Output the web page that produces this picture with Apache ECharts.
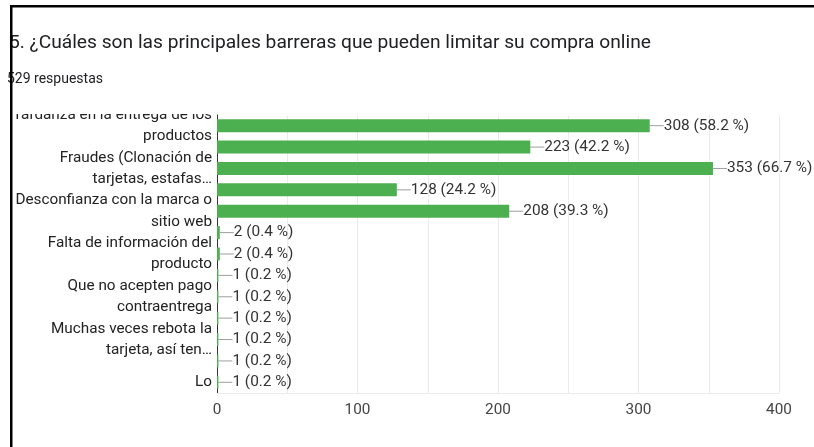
<!DOCTYPE html>
<html>
<head>
<meta charset="utf-8">
<script src="https://cdn.jsdelivr.net/npm/echarts@6/dist/echarts.min.js"></script>
<style>
	html, body { margin: 0; padding: 0; background: #fff; }
	#chart { width: 814px; height: 447px; }
</style>
</head>
<body>
<div id="chart"></div>
<script>
// respuestas por barrera (total 529)
const categories = [
	'Tardanza en la entrega de los productos',
	'Costos de envío elevados',
	'Fraudes (Clonación de tarjetas, estafas…',
	'Inseguridad en los medios de pago',
	'Desconfianza con la marca o sitio web',
	'Productos distintos a la descripción',
	'Falta de información del producto',
	'Ninguna',
	'Que no acepten pago contraentrega',
	'No tengo tarjeta de crédito',
	'Muchas veces rebota la tarjeta, así ten…',
	'Demoras en los reembolsos',
	'Lo'
];
const counts = [308, 223, 353, 128, 208, 2, 2, 1, 1, 1, 1, 1, 1];
const percents = [58.2, 42.2, 66.7, 24.2, 39.3, 0.4, 0.4, 0.2, 0.2, 0.2, 0.2, 0.2, 0.2];
const xTicks = [0, 100, 200, 300, 400];

const font = 'Roboto, Arial, sans-serif';

// parte una etiqueta larga en dos renglones como Google Charts
function wrapLabel(text) {
	const words = text.split(' ');
	let line1 = '';
	let rest = [];
	for (let i = 0; i < words.length; i++) {
		const next = line1 ? line1 + ' ' + words[i] : words[i];
		if (next.length <= 29 && rest.length === 0) {
			line1 = next;
		} else {
			rest.push(words[i]);
		}
	}
	return rest.length ? line1 + '\n' + rest.join(' ') : line1;
}

function buildData() {
	let data = [];
	for (let i = 0; i < counts.length; i++) {
		data.push({ value: counts[i], pct: percents[i] });
	}
	return data;
}

var chartDom = document.getElementById('chart');
var myChart = echarts.init(chartDom);
var option;

option = {
	animation: false,
	title: [
		{
			text: '5. ¿Cuáles son las principales barreras que pueden limitar su compra online',
			left: 4,
			top: 29,
			textStyle: { fontFamily: font, fontSize: 19.2, fontWeight: 'normal', color: '#202124' }
		},
		{
			text: '529 respuestas',
			left: 2,
			top: 67,
			textStyle: { fontFamily: font, fontSize: 14, fontWeight: 'normal', color: '#202124' }
		}
	],
	grid: {
		left: 217,
		right: 35,
		top: 115,
		bottom: 54
	},
	xAxis: {
		type: 'value',
		min: 0,
		max: 400,
		interval: 50,
		axisLine: { show: true, lineStyle: { color: '#ebebeb' } },
		axisTick: { show: false },
		splitLine: { show: true, lineStyle: { color: '#ebebeb', width: 1 } },
		axisLabel: {
			margin: 10,
			fontFamily: font,
			fontSize: 15.3,
			color: '#444',
			formatter: function (v) {
				return xTicks.indexOf(v) >= 0 ? String(v) : '';
			}
		}
	},
	yAxis: {
		type: 'category',
		inverse: true,
		data: categories,
		axisLine: { show: true, lineStyle: { color: '#333', width: 1 } },
		axisTick: { show: false },
		axisLabel: {
			interval: 1,
			showMinLabel: true,
			showMaxLabel: true,
			margin: 5,
			fontFamily: font,
			fontSize: 15.3,
			lineHeight: 21.2,
			color: '#222',
			formatter: wrapLabel
		}
	},
	series: [
		{
			type: 'bar',
			data: buildData(),
			barWidth: 13,
			itemStyle: { color: '#4caf50' },
			label: {
				show: true,
				position: 'right',
				distance: 0,
				fontFamily: font,
				fontSize: 15.4,
				color: '#333',
				formatter: function (p) {
					return p.value + ' (' + p.data.pct + ' %)';
				}
			},
			labelLayout: { dx: 14 },
			labelLine: { show: true, lineStyle: { color: '#9e9e9e', width: 1 } }
		}
	],
	graphic: [
		// recorte de la primera etiqueta, como en la captura
		{
			type: 'rect',
			shape: { x: 13, y: 96, width: 202, height: 18 },
			style: { fill: '#fff' },
			z: 50
		},
		// marco negro de la captura
		{
			type: 'rect',
			shape: { x: 10, y: 5, width: 804, height: 2.5 },
			style: { fill: '#000' },
			z: 60
		},
		{
			type: 'rect',
			shape: { x: 10, y: 5, width: 2.5, height: 442 },
			style: { fill: '#000' },
			z: 60
		}
	]
};

option && myChart.setOption(option);
</script>
</body>
</html>
